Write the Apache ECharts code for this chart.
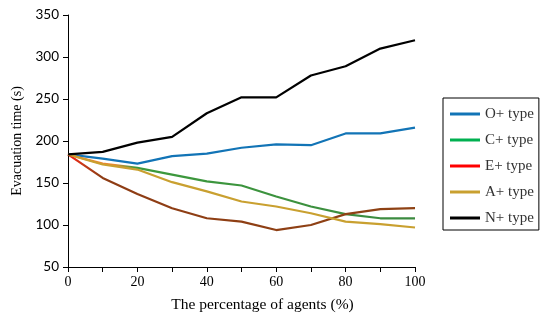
<!DOCTYPE html>
<html>
<head>
<meta charset="utf-8">
<script src="https://cdn.jsdelivr.net/npm/echarts@6/dist/echarts.min.js"></script>
<style>html,body{margin:0;padding:0;background:#fff;}#c{width:550px;height:321px;}</style>
</head>
<body>
<div id="c"></div>
<script>
var categories = [0, 10, 20, 30, 40, 50, 60, 70, 80, 90, 100];
var oPlus = [184, 179, 173, 182, 185, 192, 196, 195, 209, 209, 216];
var cPlus = [184, 173, 168, 160, 152, 147, 134, 122, 113, 108, 108];
var ePlus = [184, 156, 137, 120, 108, 104, 94, 100, 113, 119, 120];
var aPlus = [184, 172, 166, 151, 140, 128, 122, 114, 104, 101, 97];
var nPlus = [184, 187, 198, 205, 233, 252, 252, 278, 289, 310, 320];
var yTicks = [50, 100, 150, 200, 250, 300, 350];
var seriesNames = ['O+ type', 'C+ type', 'E+ type', 'A+ type', 'N+ type'];

function pairs(arr) { return categories.map(function (x, i) { return [x, arr[i]]; }); }

var chart = echarts.init(document.getElementById('c'));
var serif = 'Liberation Serif';
var grad = function (stops) { return new echarts.graphic.LinearGradient(0, 0, 1, 0, stops); };
var colors = {
  'O+ type': '#1274B6',
  'C+ type': grad([{offset: 0, color: '#F07A30'}, {offset: 0.14, color: '#E88A30'}, {offset: 0.2, color: '#3C9A3C'}, {offset: 1, color: '#3C8A40'}]),
  'E+ type': grad([{offset: 0, color: '#FF1010'}, {offset: 0.05, color: '#C83A18'}, {offset: 0.1, color: '#8E3C14'}, {offset: 1, color: '#8E4214'}]),
  'A+ type': '#C9A030',
  'N+ type': '#000000'
};
var legendColors = ['#1274B6', '#00B050', '#FF0000', '#C9A030', '#000000'];
var dataArr = [oPlus, cPlus, ePlus, aPlus, nPlus];
var order = [3, 1, 2, 0, 4];

var series = order.map(function (i) {
  var n = seriesNames[i];
  return {
    name: n, type: 'line', data: pairs(dataArr[i]), showSymbol: false, symbol: 'none',
    lineStyle: {width: 2.2, color: colors[n]}, itemStyle: {color: legendColors[i]},
    animation: false, z: 2 + i
  };
});

chart.setOption({
  animation: false,
  grid: {left: 68, right: 135, top: 15, bottom: 54, containLabel: false},
  xAxis: {
    type: 'value', min: 0, max: 100, interval: 20,
    name: 'The percentage of agents (%)', nameLocation: 'middle', nameGap: 30,
    nameTextStyle: {fontFamily: serif, fontSize: 15.5, color: '#000', padding: [0, 0, 0, 42]},
    axisLine: {lineStyle: {color: '#000', width: 1}},
    axisTick: {show: true, inside: false, length: 5, lineStyle: {color: '#000'}},
    minorTick: {show: true, splitNumber: 2, length: 5, lineStyle: {color: '#000'}},
    axisLabel: {fontFamily: serif, fontSize: 14, color: '#000', margin: 8},
    splitLine: {show: false}
  },
  yAxis: {
    type: 'value', min: 50, max: 350, interval: 50,
    name: 'Evacuation time (s)', nameLocation: 'middle', nameGap: 44, nameRotate: 90,
    nameTextStyle: {fontFamily: serif, fontSize: 14, color: '#000'},
    axisLine: {show: true, lineStyle: {color: '#000', width: 1}},
    axisTick: {show: true, inside: false, length: 5, lineStyle: {color: '#000'}},
    axisLabel: {fontFamily: 'Lato', fontSize: 13.5, color: '#000', margin: 9,
      formatter: function (v) { return yTicks.indexOf(v) >= 0 ? String(v) : ''; }},
    splitLine: {show: false}
  },
  legend: {
    orient: 'vertical', left: 443, top: 98,
    data: seriesNames.map(function (n, i) { return {name: n, itemStyle: {color: legendColors[i]}}; }),
    icon: 'rect', itemWidth: 30, itemHeight: 3, itemGap: 11,
    padding: [8.5, 5, 4.5, 7],
    borderColor: '#000', borderWidth: 1, borderRadius: 0,
    textStyle: {fontFamily: serif, fontSize: 15, lineHeight: 15, color: '#333'},
    selectedMode: false
  },
  series: series
});
</script>
</body>
</html>
